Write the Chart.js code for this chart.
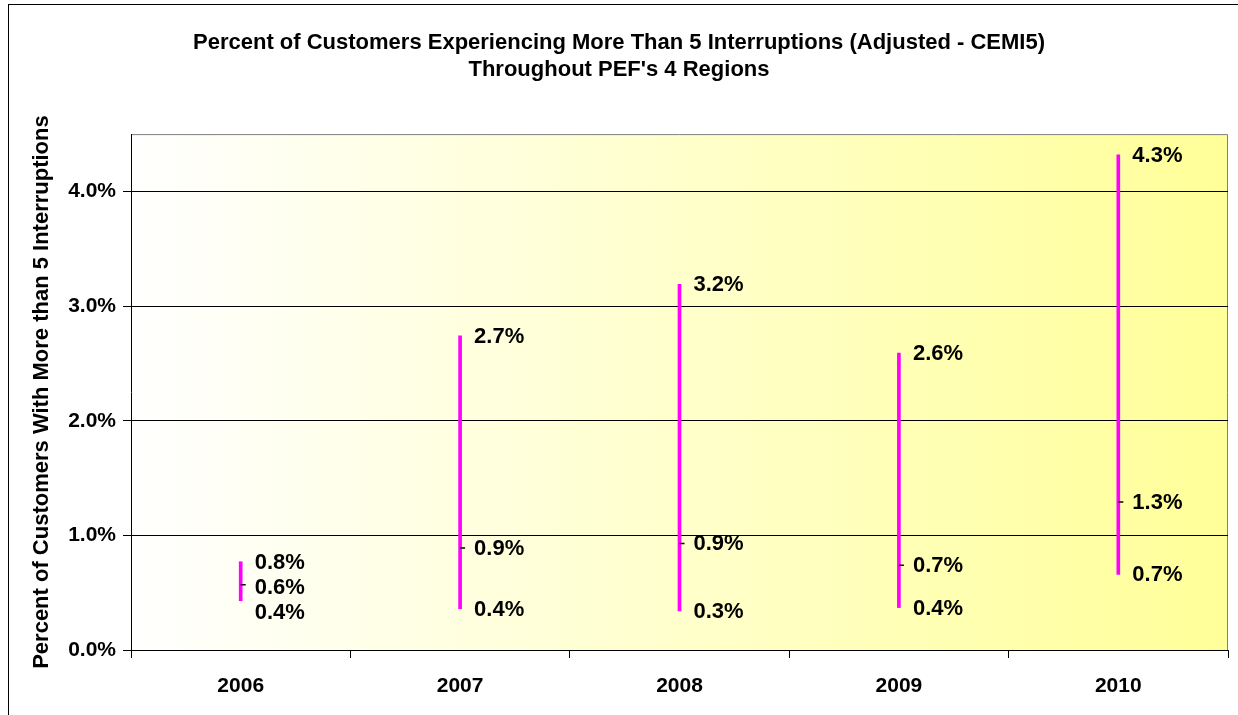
<!DOCTYPE html>
<html>
<head>
<meta charset="utf-8">
<title>CEMI5 - PEF Regions</title>
<script src="https://cdn.jsdelivr.net/npm/chart.js@4"></script>
<style>
  html, body { margin: 0; padding: 0; background: #fff; }
  canvas { display: block; }
</style>
</head>
<body>
<canvas id="cemiChart" width="1238" height="715"></canvas>
<script>
// data (percent)
const years = ['2006', '2007', '2008', '2009', '2010'];
const highVals = [0.77, 2.74, 3.19, 2.59, 4.32];
const lowVals = [0.43, 0.36, 0.34, 0.37, 0.66];
const avgVals = [0.57, 0.89, 0.93, 0.74, 1.29];
const yTicks = [0, 1, 2, 3, 4];

const FONT = "'Liberation Sans', Arial, sans-serif";
const fmt = v => v.toFixed(1) + '%';

// 1. BACKGROUND, FRAME AND VALUE LABELS
const framePlugin = {
    id: 'frame',
    beforeDraw(chart) {
        const { ctx, chartArea: a } = chart;
        ctx.save();
        ctx.fillStyle = '#fff';
        ctx.fillRect(0, 0, chart.width, chart.height);
        ctx.strokeStyle = '#000';
        ctx.lineWidth = 1;
        ctx.strokeRect(8.5, 4.5, chart.width + 20, chart.height + 20);

        const grad = ctx.createLinearGradient(a.left, 0, a.right, 0);
        grad.addColorStop(0, '#ffffff');
        grad.addColorStop(1, '#ffff99');
        ctx.fillStyle = grad;
        ctx.fillRect(a.left, a.top, a.right - a.left, a.bottom - a.top);

        // grey top / right edge of plot area
        ctx.strokeStyle = '#808080';
        ctx.beginPath();
        ctx.moveTo(a.left, a.top + 0.5);
        ctx.lineTo(a.right - 0.5, a.top + 0.5);
        ctx.lineTo(a.right - 0.5, a.bottom);
        ctx.stroke();
        ctx.restore();
    },
    afterDatasetsDraw(chart) {
        const { ctx } = chart;
        const xs = chart.scales.x, ys = chart.scales.y;
        ctx.save();
        ctx.font = 'bold 22px ' + FONT;
        ctx.fillStyle = '#000';
        ctx.textAlign = 'left';
        ctx.textBaseline = 'middle';
        years.forEach((yr, i) => {
            const x = xs.getPixelForValue(i) + 14;
            let prev = -100;
            [highVals[i], avgVals[i], lowVals[i]].forEach(v => {
                let y = ys.getPixelForValue(v) + 1;
                if (y - prev < 25) y = prev + 25; // keep labels apart
                ctx.fillText(fmt(v), x, y);
                prev = y;
            });
        });
        ctx.restore();
    }
};

// 2. CHART
const ctx = document.getElementById('cemiChart').getContext('2d');
new Chart(ctx, {
    data: {
        labels: years,
        datasets: [{
            type: 'line',
            label: 'Average',
            data: avgVals,
            showLine: false,
            pointStyle: 'dash',
            pointRadius: 5,
            pointBorderWidth: 1.5,
            pointBorderColor: '#000',
            order: 1
        }, {
            type: 'bar',
            label: 'Range',
            data: years.map((_, i) => [lowVals[i], highVals[i]]),
            backgroundColor: '#ff00ff',
            barThickness: 3,
            order: 2
        }]
    },
    options: {
        responsive: false,
        animation: false,
        layout: { padding: { left: 10, right: 10, top: 6, bottom: 0 } },
        plugins: {
            legend: { display: false },
            tooltip: { enabled: false },
            title: {
                display: true,
                text: ["Percent of Customers Experiencing More Than 5 Interruptions (Adjusted - CEMI5)",
                       "Throughout PEF's 4 Regions"],
                color: '#000',
                font: { family: FONT, size: 22, weight: 'bold', lineHeight: 1.23 },
                padding: { top: 23, bottom: 51 }
            }
        },
        scales: {
            x: {
                grid: { offset: true, drawOnChartArea: false, color: '#000', tickLength: 8 },
                border: { color: '#000' },
                ticks: { color: '#000', padding: 16, font: { family: FONT, size: 21, weight: 'bold' } },
                afterFit: s => { s.height = 65; }
            },
            y: {
                min: 0,
                max: 4.5,
                afterBuildTicks: s => { s.ticks = yTicks.map(v => ({ value: v })); },
                grid: { color: '#000', tickLength: 8 },
                border: { color: '#000' },
                ticks: { color: '#000', padding: 7, callback: v => fmt(v), font: { family: FONT, size: 21, weight: 'bold' } },
                title: {
                    display: true,
                    text: 'Percent of Customers With More than 5 Interruptions',
                    color: '#000',
                    font: { family: FONT, size: 22, weight: 'bold' },
                    padding: { top: 19, bottom: 0 }
                },
                afterFit: s => { s.width = 121; }
            }
        }
    },
    plugins: [framePlugin]
});
</script>
</body>
</html>
